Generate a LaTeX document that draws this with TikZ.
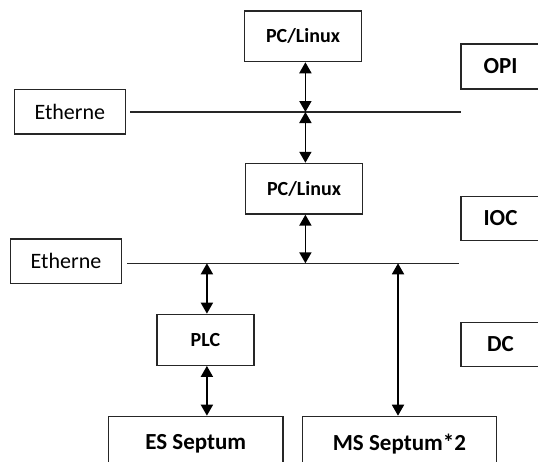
\documentclass[tikz,border=0pt]{standalone}
\usepackage{fontspec}
\setmainfont{Carlito}
\usetikzlibrary{arrows.meta}

\tikzset{
  box/.style={draw=black!85, line width=1.2pt, inner sep=0pt, font=\bfseries\fontsize{20}{24}\selectfont},
  bigbox/.style={box, font=\bfseries\fontsize{23}{27}\selectfont},
  netbox/.style={draw=black!85, line width=1.2pt, inner sep=0pt, font=\fontsize{22}{26}\selectfont},
  bus/.style={draw=black!85, line width=1.1pt},
  link/.style={line width=1.8pt, {Triangle[width=12pt,length=11pt]}-{Triangle[width=12pt,length=11pt]}},
}

\begin{document}
\begin{tikzpicture}[x=1pt,y=-1pt]
  \useasboundingbox (0,0) rectangle (538,461);
  \clip (0,0) rectangle (538,461);
  % nodes
  \node[box, minimum width=116.6pt, minimum height=50.7pt] (pc1) at (303,36.3) {PC/Linux};
  \node[box, minimum width=116.7pt, minimum height=50.7pt] (pc2) at (304,188.7) {PC/Linux};
  \node[box, minimum width=97pt, minimum height=51pt] (plc) at (205.4,339.8) {PLC};
  \node[bigbox, minimum width=174.7pt, minimum height=54.6pt, anchor=north] (es) at (195.7,415.7) {ES Septum};
  \node[bigbox, minimum width=194.2pt, minimum height=54.6pt, anchor=north] (ms) at (399.4,415.7) {MS Septum*2};
  \node[bigbox, minimum width=79pt, minimum height=45pt] (opi) at (500.5,66.5) {OPI};
  \node[bigbox, minimum width=79pt, minimum height=44.5pt] (ioc) at (500.5,218.5) {IOC};
  \node[bigbox, minimum width=79pt, minimum height=44pt] (dc) at (500.5,344.2) {DC};
  \node[netbox, minimum width=110.9pt, minimum height=44.7pt] (eth1) at (69.8,111.7) {Etherne};
  \node[netbox, minimum width=111.5pt, minimum height=44.3pt] (eth2) at (66,261.2) {Etherne};
  % buses
  \coordinate (b1l) at (130,112);
  \coordinate (b1r) at (461,112);
  \coordinate (b1m) at (305.4,112);
  \coordinate (b2l) at (127,263.3);
  \coordinate (b2r) at (458.8,263.3);
  \coordinate (b2m) at (305.4,263.3);
  \coordinate (b2a) at (206.9,263.3);
  \coordinate (b2b) at (398,263.3);
  \draw[bus] (b1l) -- (b1r);
  \draw[bus] (b2l) -- (b2r);
  % links
  \draw[link] (b1m |- pc1.south) -- (b1m);
  \draw[link] (b1m) -- (b1m |- pc2.north);
  \draw[link] (b2m |- pc2.south) -- (b2m);
  \draw[link] (b2a) -- (b2a |- plc.north);
  \draw[link] (b2a |- plc.south) -- (b2a |- es.north);
  \draw[link] (b2b) -- (b2b |- ms.north);
\end{tikzpicture}
\end{document}
